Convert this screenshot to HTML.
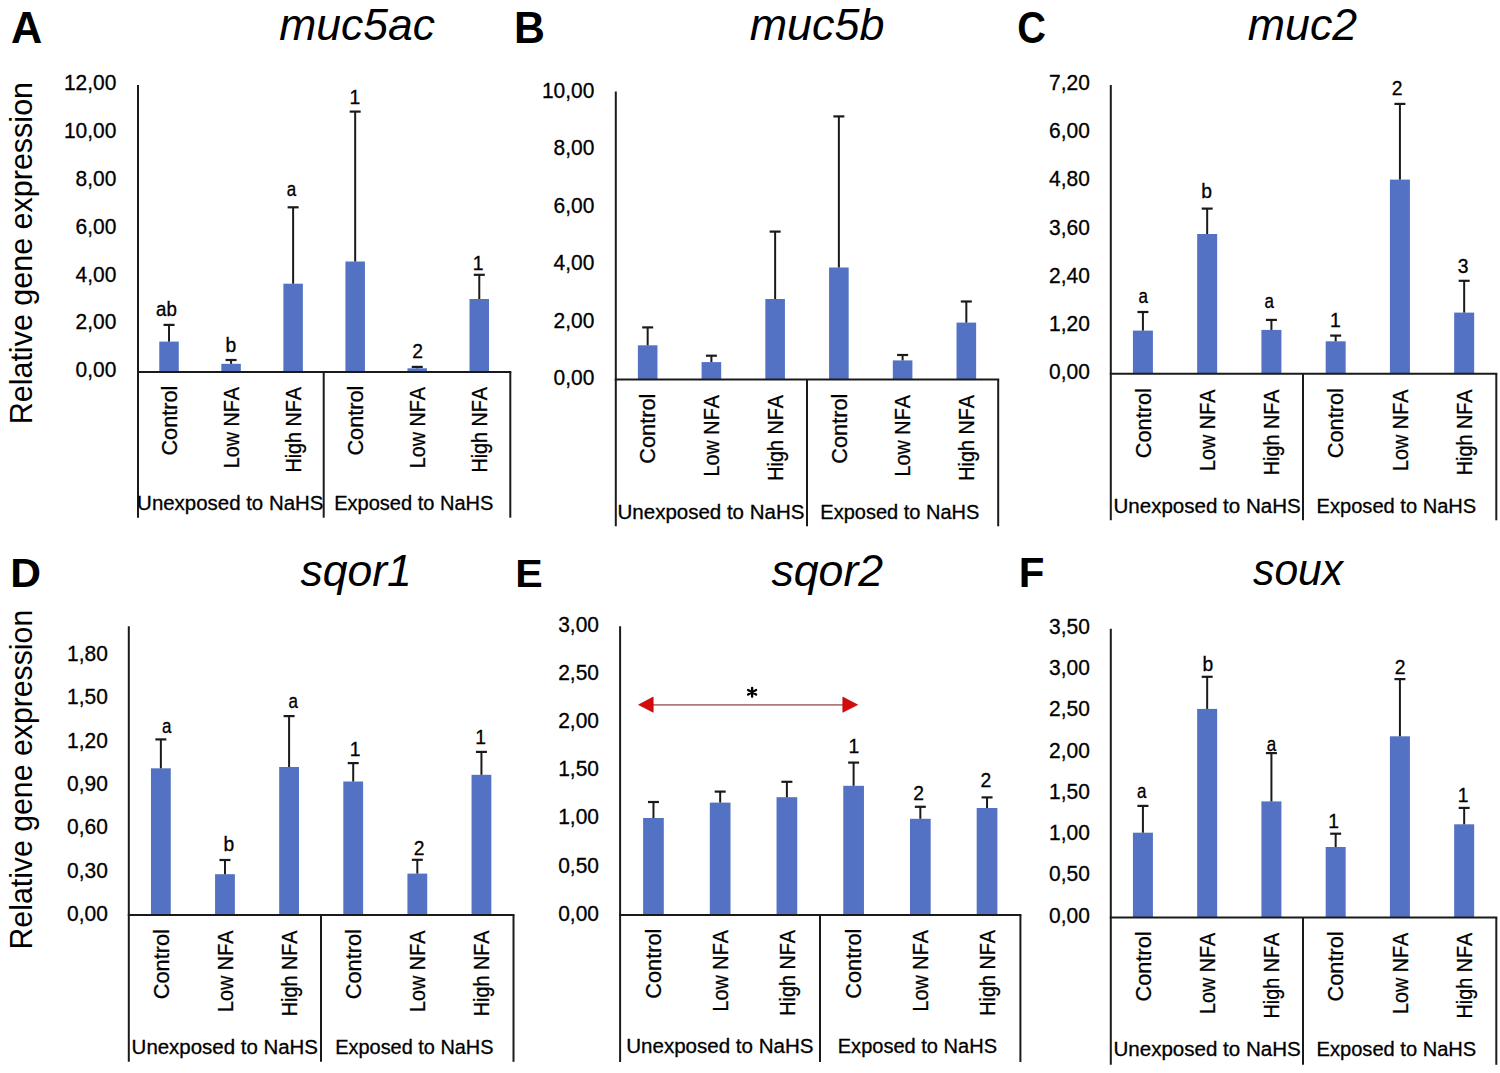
<!DOCTYPE html>
<html><head><meta charset="utf-8"><style>
html,body{margin:0;padding:0;background:#fff;}
svg{display:block;}
text{font-family:"Liberation Sans", sans-serif;font-kerning:none;}
.r{stroke:#000;stroke-width:0.3px;}
</style></head><body>
<svg width="1500" height="1073" viewBox="0 0 1500 1073">
<rect width="1500" height="1073" fill="#fff"/>
<rect x="159.28" y="341.6" width="19.5" height="30.3" fill="#5472c4"/>
<line x1="169.03" y1="341.6" x2="169.03" y2="324.9" stroke="#1a1a1a" stroke-width="2"/>
<line x1="163.53" y1="324.9" x2="174.53" y2="324.9" stroke="#1a1a1a" stroke-width="2.2"/>
<rect x="221.32" y="363.8" width="19.5" height="8.1" fill="#5472c4"/>
<line x1="231.07" y1="363.8" x2="231.07" y2="360" stroke="#1a1a1a" stroke-width="2"/>
<line x1="225.57" y1="360" x2="236.57" y2="360" stroke="#1a1a1a" stroke-width="2.2"/>
<rect x="283.38" y="283.7" width="19.5" height="88.2" fill="#5472c4"/>
<line x1="293.12" y1="283.7" x2="293.12" y2="207.3" stroke="#1a1a1a" stroke-width="2"/>
<line x1="287.62" y1="207.3" x2="298.62" y2="207.3" stroke="#1a1a1a" stroke-width="2.2"/>
<rect x="345.43" y="261.5" width="19.5" height="110.4" fill="#5472c4"/>
<line x1="355.18" y1="261.5" x2="355.18" y2="111.6" stroke="#1a1a1a" stroke-width="2"/>
<line x1="349.68" y1="111.6" x2="360.68" y2="111.6" stroke="#1a1a1a" stroke-width="2.2"/>
<rect x="407.48" y="368.3" width="19.5" height="3.6" fill="#5472c4"/>
<line x1="417.23" y1="368.3" x2="417.23" y2="366.9" stroke="#1a1a1a" stroke-width="2"/>
<line x1="411.73" y1="366.9" x2="422.73" y2="366.9" stroke="#1a1a1a" stroke-width="2.2"/>
<rect x="469.53" y="299" width="19.5" height="72.9" fill="#5472c4"/>
<line x1="479.28" y1="299" x2="479.28" y2="274.8" stroke="#1a1a1a" stroke-width="2"/>
<line x1="473.78" y1="274.8" x2="484.78" y2="274.8" stroke="#1a1a1a" stroke-width="2.2"/>
<line x1="138" y1="85" x2="138" y2="517.7" stroke="#1a1a1a" stroke-width="2"/>
<line x1="137" y1="371.9" x2="511.3" y2="371.9" stroke="#1a1a1a" stroke-width="2"/>
<line x1="323.7" y1="371.9" x2="323.7" y2="517.7" stroke="#1a1a1a" stroke-width="2"/>
<line x1="510.3" y1="371.9" x2="510.3" y2="517.7" stroke="#1a1a1a" stroke-width="2"/>
<text transform="translate(75.62,377.2) scale(0.9750,1)" font-size="21.50" class="r">0,00</text>
<text transform="translate(75.62,329.35) scale(0.9750,1)" font-size="21.50" class="r">2,00</text>
<text transform="translate(75.62,281.5) scale(0.9750,1)" font-size="21.50" class="r">4,00</text>
<text transform="translate(75.62,233.65) scale(0.9750,1)" font-size="21.50" class="r">6,00</text>
<text transform="translate(75.62,185.8) scale(0.9750,1)" font-size="21.50" class="r">8,00</text>
<text transform="translate(63.96,137.95) scale(0.9750,1)" font-size="21.50" class="r">10,00</text>
<text transform="translate(63.96,90.1) scale(0.9750,1)" font-size="21.50" class="r">12,00</text>
<text transform="translate(176.83,455.6) rotate(-90) scale(1.0160,1)" font-size="21.39" class="r">Control</text>
<text transform="translate(238.88,468.32) rotate(-90) scale(0.9249,1)" font-size="21.39" class="r">Low NFA</text>
<text transform="translate(300.93,472.62) rotate(-90) scale(0.9239,1)" font-size="21.39" class="r">High NFA</text>
<text transform="translate(362.98,455.6) rotate(-90) scale(1.0160,1)" font-size="21.39" class="r">Control</text>
<text transform="translate(425.03,468.32) rotate(-90) scale(0.9249,1)" font-size="21.39" class="r">Low NFA</text>
<text transform="translate(487.08,472.62) rotate(-90) scale(0.9239,1)" font-size="21.39" class="r">High NFA</text>
<text transform="translate(137.12,509.8) scale(1.0219,1)" font-size="20.01" font-weight="normal" font-style="normal" fill="#000" class="r">Unexposed to NaHS</text>
<text transform="translate(334.15,509.8) scale(1.0025,1)" font-size="20.01" font-weight="normal" font-style="normal" fill="#000" class="r">Exposed to NaHS</text>
<text transform="translate(155.98,315.5) scale(0.9700,1)" font-size="19.30" class="r">ab</text>
<text transform="translate(225.42,351.7) scale(1.0000,1)" font-size="19.30" class="r">b</text>
<text transform="translate(286.82,196.1) scale(0.8800,1)" font-size="19.30" class="r">a</text>
<text transform="translate(349.57,103.8) scale(1.0000,1)" font-size="19.30" class="r">1</text>
<text transform="translate(412.23,358.4) scale(1.0000,1)" font-size="19.30" class="r">2</text>
<text transform="translate(472.77,270.4) scale(1.0000,1)" font-size="19.30" class="r">1</text>
<text transform="translate(10.92,43) scale(0.9913,1)" font-size="43.60" font-weight="bold" font-style="normal" fill="#000">A</text>
<text transform="translate(279.26,40) scale(0.9884,1)" font-size="45.00" font-weight="normal" font-style="italic" fill="#000">muc5ac</text>
<rect x="637.87" y="345.3" width="19.6" height="34.1" fill="#5472c4"/>
<line x1="647.67" y1="345.3" x2="647.67" y2="327.4" stroke="#1a1a1a" stroke-width="2"/>
<line x1="642.17" y1="327.4" x2="653.17" y2="327.4" stroke="#1a1a1a" stroke-width="2.2"/>
<rect x="701.6" y="362.1" width="19.6" height="17.3" fill="#5472c4"/>
<line x1="711.4" y1="362.1" x2="711.4" y2="355.7" stroke="#1a1a1a" stroke-width="2"/>
<line x1="705.9" y1="355.7" x2="716.9" y2="355.7" stroke="#1a1a1a" stroke-width="2.2"/>
<rect x="765.33" y="299" width="19.6" height="80.4" fill="#5472c4"/>
<line x1="775.13" y1="299" x2="775.13" y2="231.6" stroke="#1a1a1a" stroke-width="2"/>
<line x1="769.63" y1="231.6" x2="780.63" y2="231.6" stroke="#1a1a1a" stroke-width="2.2"/>
<rect x="829.07" y="267.5" width="19.6" height="111.9" fill="#5472c4"/>
<line x1="838.87" y1="267.5" x2="838.87" y2="116.4" stroke="#1a1a1a" stroke-width="2"/>
<line x1="833.37" y1="116.4" x2="844.37" y2="116.4" stroke="#1a1a1a" stroke-width="2.2"/>
<rect x="892.8" y="360.4" width="19.6" height="19" fill="#5472c4"/>
<line x1="902.6" y1="360.4" x2="902.6" y2="355" stroke="#1a1a1a" stroke-width="2"/>
<line x1="897.1" y1="355" x2="908.1" y2="355" stroke="#1a1a1a" stroke-width="2.2"/>
<rect x="956.53" y="322.6" width="19.6" height="56.8" fill="#5472c4"/>
<line x1="966.33" y1="322.6" x2="966.33" y2="301.5" stroke="#1a1a1a" stroke-width="2"/>
<line x1="960.83" y1="301.5" x2="971.83" y2="301.5" stroke="#1a1a1a" stroke-width="2.2"/>
<line x1="615.8" y1="91.5" x2="615.8" y2="526.3" stroke="#1a1a1a" stroke-width="2"/>
<line x1="614.8" y1="379.4" x2="999.2" y2="379.4" stroke="#1a1a1a" stroke-width="2"/>
<line x1="807" y1="379.4" x2="807" y2="526.3" stroke="#1a1a1a" stroke-width="2"/>
<line x1="998.2" y1="379.4" x2="998.2" y2="526.3" stroke="#1a1a1a" stroke-width="2"/>
<text transform="translate(553.62,385) scale(0.9750,1)" font-size="21.50" class="r">0,00</text>
<text transform="translate(553.62,327.6) scale(0.9750,1)" font-size="21.50" class="r">2,00</text>
<text transform="translate(553.62,270.2) scale(0.9750,1)" font-size="21.50" class="r">4,00</text>
<text transform="translate(553.62,212.8) scale(0.9750,1)" font-size="21.50" class="r">6,00</text>
<text transform="translate(553.62,155.4) scale(0.9750,1)" font-size="21.50" class="r">8,00</text>
<text transform="translate(541.96,98) scale(0.9750,1)" font-size="21.50" class="r">10,00</text>
<text transform="translate(655.47,463.7) rotate(-90) scale(1.0160,1)" font-size="21.39" class="r">Control</text>
<text transform="translate(719.2,476.42) rotate(-90) scale(0.9249,1)" font-size="21.39" class="r">Low NFA</text>
<text transform="translate(782.93,480.72) rotate(-90) scale(0.9239,1)" font-size="21.39" class="r">High NFA</text>
<text transform="translate(846.67,463.7) rotate(-90) scale(1.0160,1)" font-size="21.39" class="r">Control</text>
<text transform="translate(910.4,476.42) rotate(-90) scale(0.9249,1)" font-size="21.39" class="r">Low NFA</text>
<text transform="translate(974.13,480.72) rotate(-90) scale(0.9239,1)" font-size="21.39" class="r">High NFA</text>
<text transform="translate(617.52,519) scale(1.0252,1)" font-size="20.01" font-weight="normal" font-style="normal" fill="#000" class="r">Unexposed to NaHS</text>
<text transform="translate(820.36,519) scale(1.0006,1)" font-size="20.01" font-weight="normal" font-style="normal" fill="#000" class="r">Exposed to NaHS</text>
<text transform="translate(513.94,43.2) scale(0.9750,1)" font-size="43.90" font-weight="bold" font-style="normal" fill="#000">B</text>
<text transform="translate(749.65,40.2) scale(0.9975,1)" font-size="45.00" font-weight="normal" font-style="italic" fill="#000">muc5b</text>
<rect x="1132.92" y="330.6" width="20" height="43.1" fill="#5472c4"/>
<line x1="1142.92" y1="330.6" x2="1142.92" y2="312" stroke="#1a1a1a" stroke-width="2"/>
<line x1="1137.42" y1="312" x2="1148.42" y2="312" stroke="#1a1a1a" stroke-width="2.2"/>
<rect x="1197.17" y="234" width="20" height="139.7" fill="#5472c4"/>
<line x1="1207.17" y1="234" x2="1207.17" y2="208.6" stroke="#1a1a1a" stroke-width="2"/>
<line x1="1201.67" y1="208.6" x2="1212.67" y2="208.6" stroke="#1a1a1a" stroke-width="2.2"/>
<rect x="1261.42" y="329.9" width="20" height="43.8" fill="#5472c4"/>
<line x1="1271.42" y1="329.9" x2="1271.42" y2="319.9" stroke="#1a1a1a" stroke-width="2"/>
<line x1="1265.92" y1="319.9" x2="1276.92" y2="319.9" stroke="#1a1a1a" stroke-width="2.2"/>
<rect x="1325.67" y="341.3" width="20" height="32.4" fill="#5472c4"/>
<line x1="1335.67" y1="341.3" x2="1335.67" y2="335.6" stroke="#1a1a1a" stroke-width="2"/>
<line x1="1330.17" y1="335.6" x2="1341.17" y2="335.6" stroke="#1a1a1a" stroke-width="2.2"/>
<rect x="1389.92" y="179.6" width="20" height="194.1" fill="#5472c4"/>
<line x1="1399.92" y1="179.6" x2="1399.92" y2="103.9" stroke="#1a1a1a" stroke-width="2"/>
<line x1="1394.42" y1="103.9" x2="1405.42" y2="103.9" stroke="#1a1a1a" stroke-width="2.2"/>
<rect x="1454.17" y="312.6" width="20" height="61.1" fill="#5472c4"/>
<line x1="1464.17" y1="312.6" x2="1464.17" y2="280.8" stroke="#1a1a1a" stroke-width="2"/>
<line x1="1458.67" y1="280.8" x2="1469.67" y2="280.8" stroke="#1a1a1a" stroke-width="2.2"/>
<line x1="1110.8" y1="85" x2="1110.8" y2="520.3" stroke="#1a1a1a" stroke-width="2"/>
<line x1="1109.8" y1="373.7" x2="1497.3" y2="373.7" stroke="#1a1a1a" stroke-width="2"/>
<line x1="1303" y1="373.7" x2="1303" y2="520.3" stroke="#1a1a1a" stroke-width="2"/>
<line x1="1496.3" y1="373.7" x2="1496.3" y2="520.3" stroke="#1a1a1a" stroke-width="2"/>
<text transform="translate(1049.12,379.3) scale(0.9750,1)" font-size="21.50" class="r">0,00</text>
<text transform="translate(1049.12,331.08) scale(0.9750,1)" font-size="21.50" class="r">1,20</text>
<text transform="translate(1049.12,282.87) scale(0.9750,1)" font-size="21.50" class="r">2,40</text>
<text transform="translate(1049.12,234.65) scale(0.9750,1)" font-size="21.50" class="r">3,60</text>
<text transform="translate(1049.12,186.43) scale(0.9750,1)" font-size="21.50" class="r">4,80</text>
<text transform="translate(1049.12,138.22) scale(0.9750,1)" font-size="21.50" class="r">6,00</text>
<text transform="translate(1049.12,90) scale(0.9750,1)" font-size="21.50" class="r">7,20</text>
<text transform="translate(1150.72,458.2) rotate(-90) scale(1.0160,1)" font-size="21.39" class="r">Control</text>
<text transform="translate(1214.97,470.92) rotate(-90) scale(0.9249,1)" font-size="21.39" class="r">Low NFA</text>
<text transform="translate(1279.22,475.22) rotate(-90) scale(0.9239,1)" font-size="21.39" class="r">High NFA</text>
<text transform="translate(1343.47,458.2) rotate(-90) scale(1.0160,1)" font-size="21.39" class="r">Control</text>
<text transform="translate(1407.72,470.92) rotate(-90) scale(0.9249,1)" font-size="21.39" class="r">Low NFA</text>
<text transform="translate(1471.97,475.22) rotate(-90) scale(0.9239,1)" font-size="21.39" class="r">High NFA</text>
<text transform="translate(1113.51,512.6) scale(1.0269,1)" font-size="20.01" font-weight="normal" font-style="normal" fill="#000" class="r">Unexposed to NaHS</text>
<text transform="translate(1316.55,512.6) scale(1.0045,1)" font-size="20.01" font-weight="normal" font-style="normal" fill="#000" class="r">Exposed to NaHS</text>
<text transform="translate(1138.42,303) scale(0.8800,1)" font-size="19.30" class="r">a</text>
<text transform="translate(1201.22,197.9) scale(1.0000,1)" font-size="19.30" class="r">b</text>
<text transform="translate(1264.42,308) scale(0.8800,1)" font-size="19.30" class="r">a</text>
<text transform="translate(1330.07,327) scale(1.0000,1)" font-size="19.30" class="r">1</text>
<text transform="translate(1391.63,94.8) scale(1.0000,1)" font-size="19.30" class="r">2</text>
<text transform="translate(1457.69,273) scale(1.0000,1)" font-size="19.30" class="r">3</text>
<text transform="translate(1017.37,42.7) scale(0.8912,1)" font-size="44.62" font-weight="bold" font-style="normal" fill="#000">C</text>
<text transform="translate(1247.76,40) scale(0.9942,1)" font-size="45.00" font-weight="normal" font-style="italic" fill="#000">muc2</text>
<rect x="150.96" y="768.3" width="19.8" height="146.6" fill="#5472c4"/>
<line x1="160.86" y1="768.3" x2="160.86" y2="739.4" stroke="#1a1a1a" stroke-width="2"/>
<line x1="155.36" y1="739.4" x2="166.36" y2="739.4" stroke="#1a1a1a" stroke-width="2.2"/>
<rect x="215.07" y="874.2" width="19.8" height="40.7" fill="#5472c4"/>
<line x1="224.97" y1="874.2" x2="224.97" y2="860" stroke="#1a1a1a" stroke-width="2"/>
<line x1="219.47" y1="860" x2="230.47" y2="860" stroke="#1a1a1a" stroke-width="2.2"/>
<rect x="279.19" y="767" width="19.8" height="147.9" fill="#5472c4"/>
<line x1="289.09" y1="767" x2="289.09" y2="716.1" stroke="#1a1a1a" stroke-width="2"/>
<line x1="283.59" y1="716.1" x2="294.59" y2="716.1" stroke="#1a1a1a" stroke-width="2.2"/>
<rect x="343.31" y="781.5" width="19.8" height="133.4" fill="#5472c4"/>
<line x1="353.21" y1="781.5" x2="353.21" y2="763.1" stroke="#1a1a1a" stroke-width="2"/>
<line x1="347.71" y1="763.1" x2="358.71" y2="763.1" stroke="#1a1a1a" stroke-width="2.2"/>
<rect x="407.43" y="873.6" width="19.8" height="41.3" fill="#5472c4"/>
<line x1="417.32" y1="873.6" x2="417.32" y2="859.8" stroke="#1a1a1a" stroke-width="2"/>
<line x1="411.82" y1="859.8" x2="422.82" y2="859.8" stroke="#1a1a1a" stroke-width="2.2"/>
<rect x="471.54" y="774.8" width="19.8" height="140.1" fill="#5472c4"/>
<line x1="481.44" y1="774.8" x2="481.44" y2="751.9" stroke="#1a1a1a" stroke-width="2"/>
<line x1="475.94" y1="751.9" x2="486.94" y2="751.9" stroke="#1a1a1a" stroke-width="2.2"/>
<line x1="128.8" y1="626.2" x2="128.8" y2="1061.8" stroke="#1a1a1a" stroke-width="2"/>
<line x1="127.8" y1="914.9" x2="514.5" y2="914.9" stroke="#1a1a1a" stroke-width="2"/>
<line x1="321" y1="914.9" x2="321" y2="1061.8" stroke="#1a1a1a" stroke-width="2"/>
<line x1="513.5" y1="914.9" x2="513.5" y2="1061.8" stroke="#1a1a1a" stroke-width="2"/>
<text transform="translate(67.02,921) scale(0.9750,1)" font-size="21.50" class="r">0,00</text>
<text transform="translate(67.02,877.63) scale(0.9750,1)" font-size="21.50" class="r">0,30</text>
<text transform="translate(67.02,834.27) scale(0.9750,1)" font-size="21.50" class="r">0,60</text>
<text transform="translate(67.02,790.9) scale(0.9750,1)" font-size="21.50" class="r">0,90</text>
<text transform="translate(67.02,747.53) scale(0.9750,1)" font-size="21.50" class="r">1,20</text>
<text transform="translate(67.02,704.17) scale(0.9750,1)" font-size="21.50" class="r">1,50</text>
<text transform="translate(67.02,660.8) scale(0.9750,1)" font-size="21.50" class="r">1,80</text>
<text transform="translate(168.66,999.2) rotate(-90) scale(1.0160,1)" font-size="21.39" class="r">Control</text>
<text transform="translate(232.78,1011.92) rotate(-90) scale(0.9249,1)" font-size="21.39" class="r">Low NFA</text>
<text transform="translate(296.89,1016.22) rotate(-90) scale(0.9239,1)" font-size="21.39" class="r">High NFA</text>
<text transform="translate(361.01,999.2) rotate(-90) scale(1.0160,1)" font-size="21.39" class="r">Control</text>
<text transform="translate(425.12,1011.92) rotate(-90) scale(0.9249,1)" font-size="21.39" class="r">Low NFA</text>
<text transform="translate(489.24,1016.22) rotate(-90) scale(0.9239,1)" font-size="21.39" class="r">High NFA</text>
<text transform="translate(131.62,1053.9) scale(1.0224,1)" font-size="20.01" font-weight="normal" font-style="normal" fill="#000" class="r">Unexposed to NaHS</text>
<text transform="translate(335.27,1053.9) scale(0.9955,1)" font-size="20.01" font-weight="normal" font-style="normal" fill="#000" class="r">Exposed to NaHS</text>
<text transform="translate(161.92,732.5) scale(0.8800,1)" font-size="19.30" class="r">a</text>
<text transform="translate(223.52,851.2) scale(1.0000,1)" font-size="19.30" class="r">b</text>
<text transform="translate(288.52,707.7) scale(0.8800,1)" font-size="19.30" class="r">a</text>
<text transform="translate(349.67,756.3) scale(1.0000,1)" font-size="19.30" class="r">1</text>
<text transform="translate(413.63,855.3) scale(1.0000,1)" font-size="19.30" class="r">2</text>
<text transform="translate(475.37,743.8) scale(1.0000,1)" font-size="19.30" class="r">1</text>
<text transform="translate(10.15,586.6) scale(1.0457,1)" font-size="40.70" font-weight="bold" font-style="normal" fill="#000">D</text>
<text transform="translate(300.39,585.5) scale(0.9894,1)" font-size="45.00" font-weight="normal" font-style="italic" fill="#000">sqor1</text>
<rect x="643.11" y="818" width="20.7" height="96.9" fill="#5472c4"/>
<line x1="653.46" y1="818" x2="653.46" y2="802" stroke="#1a1a1a" stroke-width="2"/>
<line x1="647.96" y1="802" x2="658.96" y2="802" stroke="#1a1a1a" stroke-width="2.2"/>
<rect x="709.82" y="802.6" width="20.7" height="112.3" fill="#5472c4"/>
<line x1="720.17" y1="802.6" x2="720.17" y2="791.6" stroke="#1a1a1a" stroke-width="2"/>
<line x1="714.67" y1="791.6" x2="725.67" y2="791.6" stroke="#1a1a1a" stroke-width="2.2"/>
<rect x="776.54" y="797.2" width="20.7" height="117.7" fill="#5472c4"/>
<line x1="786.89" y1="797.2" x2="786.89" y2="781.8" stroke="#1a1a1a" stroke-width="2"/>
<line x1="781.39" y1="781.8" x2="792.39" y2="781.8" stroke="#1a1a1a" stroke-width="2.2"/>
<rect x="843.26" y="785.8" width="20.7" height="129.1" fill="#5472c4"/>
<line x1="853.61" y1="785.8" x2="853.61" y2="762.6" stroke="#1a1a1a" stroke-width="2"/>
<line x1="848.11" y1="762.6" x2="859.11" y2="762.6" stroke="#1a1a1a" stroke-width="2.2"/>
<rect x="909.98" y="818.8" width="20.7" height="96.1" fill="#5472c4"/>
<line x1="920.33" y1="818.8" x2="920.33" y2="806.8" stroke="#1a1a1a" stroke-width="2"/>
<line x1="914.83" y1="806.8" x2="925.83" y2="806.8" stroke="#1a1a1a" stroke-width="2.2"/>
<rect x="976.69" y="808" width="20.7" height="106.9" fill="#5472c4"/>
<line x1="987.04" y1="808" x2="987.04" y2="797.4" stroke="#1a1a1a" stroke-width="2"/>
<line x1="981.54" y1="797.4" x2="992.54" y2="797.4" stroke="#1a1a1a" stroke-width="2.2"/>
<line x1="620.1" y1="626.2" x2="620.1" y2="1062" stroke="#1a1a1a" stroke-width="2"/>
<line x1="619.1" y1="914.9" x2="1021.4" y2="914.9" stroke="#1a1a1a" stroke-width="2"/>
<line x1="820" y1="914.9" x2="820" y2="1062" stroke="#1a1a1a" stroke-width="2"/>
<line x1="1020.4" y1="914.9" x2="1020.4" y2="1062" stroke="#1a1a1a" stroke-width="2"/>
<text transform="translate(558.22,920.9) scale(0.9750,1)" font-size="21.50" class="r">0,00</text>
<text transform="translate(558.22,872.68) scale(0.9750,1)" font-size="21.50" class="r">0,50</text>
<text transform="translate(558.22,824.47) scale(0.9750,1)" font-size="21.50" class="r">1,00</text>
<text transform="translate(558.22,776.25) scale(0.9750,1)" font-size="21.50" class="r">1,50</text>
<text transform="translate(558.22,728.03) scale(0.9750,1)" font-size="21.50" class="r">2,00</text>
<text transform="translate(558.22,679.82) scale(0.9750,1)" font-size="21.50" class="r">2,50</text>
<text transform="translate(558.22,631.6) scale(0.9750,1)" font-size="21.50" class="r">3,00</text>
<text transform="translate(661.26,998.7) rotate(-90) scale(1.0160,1)" font-size="21.39" class="r">Control</text>
<text transform="translate(727.97,1011.42) rotate(-90) scale(0.9249,1)" font-size="21.39" class="r">Low NFA</text>
<text transform="translate(794.69,1015.72) rotate(-90) scale(0.9239,1)" font-size="21.39" class="r">High NFA</text>
<text transform="translate(861.41,998.7) rotate(-90) scale(1.0160,1)" font-size="21.39" class="r">Control</text>
<text transform="translate(928.12,1011.42) rotate(-90) scale(0.9249,1)" font-size="21.39" class="r">Low NFA</text>
<text transform="translate(994.84,1015.72) rotate(-90) scale(0.9239,1)" font-size="21.39" class="r">High NFA</text>
<text transform="translate(626.21,1052.8) scale(1.0274,1)" font-size="20.01" font-weight="normal" font-style="normal" fill="#000" class="r">Unexposed to NaHS</text>
<text transform="translate(837.76,1052.8) scale(1.0019,1)" font-size="20.01" font-weight="normal" font-style="normal" fill="#000" class="r">Exposed to NaHS</text>
<text transform="translate(848.47,753.4) scale(1.0000,1)" font-size="19.30" class="r">1</text>
<text transform="translate(913.13,800.2) scale(1.0000,1)" font-size="19.30" class="r">2</text>
<text transform="translate(980.53,787.4) scale(1.0000,1)" font-size="19.30" class="r">2</text>
<text transform="translate(515.15,587.3) scale(1.0570,1)" font-size="38.95" font-weight="bold" font-style="normal" fill="#000">E</text>
<text transform="translate(771.39,585.5) scale(0.9929,1)" font-size="45.00" font-weight="normal" font-style="italic" fill="#000">sqor2</text>
<rect x="1132.92" y="832.7" width="20" height="84.9" fill="#5472c4"/>
<line x1="1142.92" y1="832.7" x2="1142.92" y2="805.9" stroke="#1a1a1a" stroke-width="2"/>
<line x1="1137.42" y1="805.9" x2="1148.42" y2="805.9" stroke="#1a1a1a" stroke-width="2.2"/>
<rect x="1197.17" y="708.9" width="20" height="208.7" fill="#5472c4"/>
<line x1="1207.17" y1="708.9" x2="1207.17" y2="676.8" stroke="#1a1a1a" stroke-width="2"/>
<line x1="1201.67" y1="676.8" x2="1212.67" y2="676.8" stroke="#1a1a1a" stroke-width="2.2"/>
<rect x="1261.42" y="801.4" width="20" height="116.2" fill="#5472c4"/>
<line x1="1271.42" y1="801.4" x2="1271.42" y2="753.1" stroke="#1a1a1a" stroke-width="2"/>
<line x1="1265.92" y1="753.1" x2="1276.92" y2="753.1" stroke="#1a1a1a" stroke-width="2.2"/>
<rect x="1325.67" y="847" width="20" height="70.6" fill="#5472c4"/>
<line x1="1335.67" y1="847" x2="1335.67" y2="833.7" stroke="#1a1a1a" stroke-width="2"/>
<line x1="1330.17" y1="833.7" x2="1341.17" y2="833.7" stroke="#1a1a1a" stroke-width="2.2"/>
<rect x="1389.92" y="736.3" width="20" height="181.3" fill="#5472c4"/>
<line x1="1399.92" y1="736.3" x2="1399.92" y2="679.1" stroke="#1a1a1a" stroke-width="2"/>
<line x1="1394.42" y1="679.1" x2="1405.42" y2="679.1" stroke="#1a1a1a" stroke-width="2.2"/>
<rect x="1454.17" y="824.3" width="20" height="93.3" fill="#5472c4"/>
<line x1="1464.17" y1="824.3" x2="1464.17" y2="807.9" stroke="#1a1a1a" stroke-width="2"/>
<line x1="1458.67" y1="807.9" x2="1469.67" y2="807.9" stroke="#1a1a1a" stroke-width="2.2"/>
<line x1="1110.8" y1="628.8" x2="1110.8" y2="1064.8" stroke="#1a1a1a" stroke-width="2"/>
<line x1="1109.8" y1="917.6" x2="1497.3" y2="917.6" stroke="#1a1a1a" stroke-width="2"/>
<line x1="1303" y1="917.6" x2="1303" y2="1064.8" stroke="#1a1a1a" stroke-width="2"/>
<line x1="1496.3" y1="917.6" x2="1496.3" y2="1064.8" stroke="#1a1a1a" stroke-width="2"/>
<text transform="translate(1049.12,922.7) scale(0.9750,1)" font-size="21.50" class="r">0,00</text>
<text transform="translate(1049.12,881.44) scale(0.9750,1)" font-size="21.50" class="r">0,50</text>
<text transform="translate(1049.12,840.19) scale(0.9750,1)" font-size="21.50" class="r">1,00</text>
<text transform="translate(1049.12,798.93) scale(0.9750,1)" font-size="21.50" class="r">1,50</text>
<text transform="translate(1049.12,757.67) scale(0.9750,1)" font-size="21.50" class="r">2,00</text>
<text transform="translate(1049.12,716.41) scale(0.9750,1)" font-size="21.50" class="r">2,50</text>
<text transform="translate(1049.12,675.16) scale(0.9750,1)" font-size="21.50" class="r">3,00</text>
<text transform="translate(1049.12,633.9) scale(0.9750,1)" font-size="21.50" class="r">3,50</text>
<text transform="translate(1150.72,1001.4) rotate(-90) scale(1.0160,1)" font-size="21.39" class="r">Control</text>
<text transform="translate(1214.97,1014.12) rotate(-90) scale(0.9249,1)" font-size="21.39" class="r">Low NFA</text>
<text transform="translate(1279.22,1018.42) rotate(-90) scale(0.9239,1)" font-size="21.39" class="r">High NFA</text>
<text transform="translate(1343.47,1001.4) rotate(-90) scale(1.0160,1)" font-size="21.39" class="r">Control</text>
<text transform="translate(1407.72,1014.12) rotate(-90) scale(0.9249,1)" font-size="21.39" class="r">Low NFA</text>
<text transform="translate(1471.97,1018.42) rotate(-90) scale(0.9239,1)" font-size="21.39" class="r">High NFA</text>
<text transform="translate(1113.51,1056.3) scale(1.0269,1)" font-size="20.01" font-weight="normal" font-style="normal" fill="#000" class="r">Unexposed to NaHS</text>
<text transform="translate(1316.55,1056.3) scale(1.0045,1)" font-size="20.01" font-weight="normal" font-style="normal" fill="#000" class="r">Exposed to NaHS</text>
<text transform="translate(1137.12,797.5) scale(0.8800,1)" font-size="19.30" class="r">a</text>
<text transform="translate(1202.42,670.9) scale(1.0000,1)" font-size="19.30" class="r">b</text>
<text transform="translate(1266.72,750.5) scale(0.8800,1)" font-size="19.30" class="r">a</text>
<text transform="translate(1328.37,827.8) scale(1.0000,1)" font-size="19.30" class="r">1</text>
<text transform="translate(1394.63,674.2) scale(1.0000,1)" font-size="19.30" class="r">2</text>
<text transform="translate(1457.67,802) scale(1.0000,1)" font-size="19.30" class="r">1</text>
<text transform="translate(1018.79,587.4) scale(1.0030,1)" font-size="41.86" font-weight="bold" font-style="normal" fill="#000">F</text>
<text transform="translate(1253.1,585.4) scale(0.9801,1)" font-size="43.50" font-weight="normal" font-style="italic" fill="#000">soux</text>
<text transform="translate(31.8,424.3) rotate(-90) scale(0.9538,1)" font-size="31.98">Relative gene expression</text>
<text transform="translate(32,949.48) rotate(-90) scale(0.9462,1)" font-size="31.98">Relative gene expression</text>
<line x1="652" y1="704.9" x2="844" y2="704.9" stroke="#b07a7a" stroke-width="1.8"/>
<polygon points="638.6,704.8 653.2,697.1 653.2,712.3" fill="#d60a0a" stroke="#a00" stroke-width="0.6" stroke-linejoin="round"/>
<polygon points="857.6,704.8 842.8,697.1 842.8,712.3" fill="#d60a0a" stroke="#a00" stroke-width="0.6" stroke-linejoin="round"/>
<path d="M752.1,687.8V696.8M748.1,690L756.1,694.6M748.1,694.6L756.1,690" stroke="#000" stroke-width="2.3" stroke-linecap="round" fill="none"/>
</svg></body></html>
